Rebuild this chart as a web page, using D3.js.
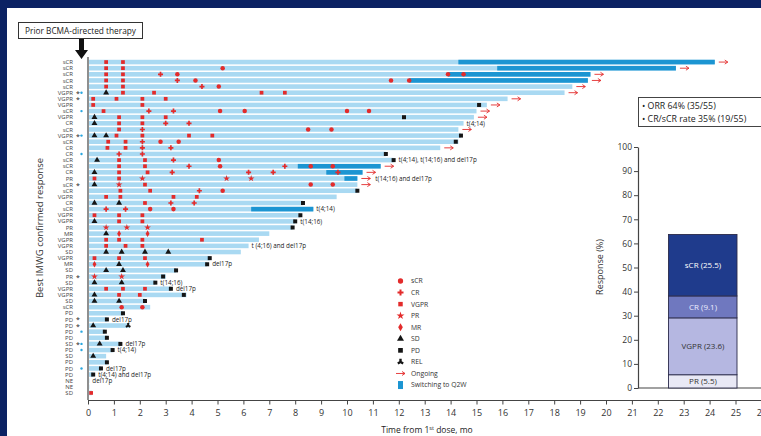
<!DOCTYPE html>
<html>
<head>
<meta charset="utf-8">
<script src="https://cdn.jsdelivr.net/npm/d3@7"></script>
<style>
  body { margin: 0; background: #0b2263; }
  svg { display: block; font-family: "Open Sans", "Noto Sans", sans-serif; }
</style>
</head>
<body>
<svg id="chart" width="761" height="436"></svg>
<script>

// ---- swimmer rows, top to bottom ----
const responses = ["sCR","sCR","sCR","sCR","sCR","VGPR","VGPR","VGPR","sCR","VGPR",
                   "CR","sCR","VGPR","sCR","CR","CR","sCR","sCR","CR","PR",
                   "sCR","sCR","VGPR","CR","sCR","VGPR","VGPR","PR","MR","VGPR",
                   "VGPR","SD","VGPR","MR","SD","PR","SD","VGPR","VGPR","SD",
                   "sCR","PD","PD","PD","PD","PD","SD","PD","SD","PD",
                   "PD","PD","NE","NE","SD"];

// k = black asterisk, c = cyan dot
const flags = ["","","","","","kc","k","","c","",
               "","","kc","","","c","","","","",
               "k","","","","","","","","","",
               "","","","","","k","","","","",
               "","","k","k","c","","kc","c","","",
               "c","","","",""];

// months on study
const durations = [24.2, 22.7, 19.4, 19.3, 18.7, 18.4, 16.2, 15.4, 15.0, 14.9,
                   14.5, 14.3, 14.4, 14.3, 13.6, 11.5, 11.8, 11.3, 10.6, 10.4,
                   10.4, 10.4, 9.6, 8.3, 8.7, 8.2, 8.0, 7.9, 7.0, 6.6,
                   6.2, 5.9, 4.7, 4.6, 3.4, 3.0, 2.6, 3.2, 3.8, 2.2,
                   2.4, 1.35, 0.75, 1.6, 0.65, 0.75, 1.25, 0.95, 0.7, 0.75,
                   0.5, 0.2, 0.05, 0.05, 0.15];

// month of switch to Q2W dosing (null = none)
const q2wStart = [14.3, 15.8, 13.9, 12.4, null, null, null, null, null, null,
                  null, null, null, null, null, null, null, 8.1, 9.2, 9.9,
                  null, null, null, null, 6.3, null, null, null, null, null,
                  null, null, null, null, null, null, null, null, null, null,
                  null, null, null, null, null, null, null, null, null, null,
                  null, null, null, null, null];

const ongoing = [1,1,1,1,1,1,1,1,1,1, 0,1,0,0,1,0,0,1,1,1, 1,0,0,0,0,0,0,0,0,0,
                 0,0,0,0,0,0,0,0,0,0, 0,0,0,0,0,0,0,0,0,0, 0,0,0,0,0];

// assessments: month + code (s sCR, c CR, v VGPR, p PR, m MR, d SD, x PD, r REL)
const events = [
  "0.7v 1.35v",
  "0.7v 1.35v 5.2s",
  "0.7v 1.35v 2.8c 3.45s 13.9s 14.5s",
  "0.7v 1.35v 3.45c 4.15s 11.7s 12.4s",
  "0.7v 1.35v 4.4c 5.05s",
  "0.7d 1.35v 2.55v 6.7v 7.6v",
  "0.2v 1.1v 2.1v 3.0v",
  "0.2v 2.1v 15.1x",
  "0.6v 2.35c 3.3c 5.1s 6.05s 10.0s 10.85s",
  "0.25d 1.2v 2.1v 3.0v 12.2x",
  "0.25d 1.2v 2.1v 3.0c 3.9c",
  "1.2v 2.1c 8.5s 9.4s",
  "0.25d 0.7d 1.1v 2.1v 3.9v 4.8v 14.4x",
  "0.78v 1.45v 2.1c 2.8s 3.5s 14.2x",
  "0.75v 1.45v 2.1c 3.2c",
  "1.2c 2.1c 11.5x",
  "0.35d 1.2v 2.2v 3.3c 5.05s 11.8x",
  "1.2v 2.2v 3.9c 5.1s 7.6c 8.6s 9.45s",
  "0.25d 1.2v 2.3v 3.25c 6.2c 7.15c 9.65c",
  "0.25v 1.2v 2.1p 5.35p 6.3p",
  "0.25d 1.2p 2.2v 8.6s 9.45s",
  "1.25v 2.4v 4.3c 5.2s 10.4x",
  "0.7v 1.25v 3.3v 4.2v",
  "0.25d 1.2d 2.2v 3.2c 4.1c 8.3x",
  "0.7c 1.45c 2.4s 3.3s",
  "0.25v 1.2v 2.1v 8.2x",
  "0.25d 1.2v 2.1v 8.0x",
  "0.7p 1.5p 2.3p 7.9x",
  "0.7d 1.2m 2.3m",
  "0.7v 1.2v 2.1v 4.4v",
  "0.7v 1.45v 2.1v",
  "0.7d 1.3d 2.2d 3.1d",
  "0.25v 1.2v 2.2v 4.7x",
  "0.25m 1.2d 2.3m 4.6x",
  "0.7d 1.35d 3.4x",
  "0.25p 1.3p 2.9x",
  "0.25d 1.3d 2.6x",
  "0.7v 1.35v 2.2v 3.2x",
  "0.25d 1.2v 2.0v 3.7x",
  "0.25d 1.2d 2.2x",
  "1.3s 2.1s",
  "1.35x",
  "0.73x",
  "0.2d 1.55r",
  "0.65x",
  "0.73x",
  "0.45d 1.25x",
  "0.95x",
  "0.2d",
  "0.73x",
  "0.5x",
  "0.2x",
  "",
  "",
  "0.12v"
];

const annotations = ["","","","","","","","","","",
                     "t(4;14)","","","","","","t(4;14), t(14;16) and del17p","","","t(14;16) and del17p",
                     "","","","","t(4;14)","","t(14;16)","","","",
                     "t (4;16) and del17p","","","del17p","","","t(14;16)","del17p","","",
                     "","","del17p","","","","del17p","t(4;14)","","",
                     "del17p","t(4;14) and del17p","del17p","",""];

// ---- response summary bar ----
const orrCats = ["PR", "VGPR", "CR", "sCR"];
const orrValues = [5.5, 23.6, 9.1, 25.5];
const orrColors = ["#e9e9f5", "#b5b7e1", "#6f78bf", "#1f3b8c"];
const orrTextColors = ["#333", "#333", "#eef", "#fff"];

const monthTicks = d3.range(0, 27);
const pctTicks = d3.range(0, 101, 10);

const legendItems = [["s","sCR"],["c","CR"],["v","VGPR"],["p","PR"],["m","MR"],
                     ["d","SD"],["x","PD"],["r","REL"],["o","Ongoing"],["q","Switching to Q2W"]];

const red = "#e32b2b", ink = "#151515";
const lightBar = "#a9d9f2", q2wBar = "#1c95d2";

const symbolFor = { s: d3.symbolCircle, c: d3.symbolCross, v: d3.symbolSquare, p: d3.symbolStar,
                    m: d3.symbolDiamond, d: d3.symbolTriangle, x: d3.symbolSquare, r: d3.symbolWye };
const sizeFor = { s: 16, c: 14, v: 14, p: 14, m: 13, d: 15, x: 16, r: 14 };
function colorFor(t) { return "scvpm".includes(t) ? red : ink; }

function parseEvents(str) {
  return str.split(" ").filter(function(s) { return s; })
            .map(function(s) { return { m: +s.slice(0, -1), t: s.slice(-1) }; });
}

function drawArrow(g, x0, yc) {
  g.append("path")
    .attr("d", "M" + x0 + "," + yc + "H" + (x0 + 9) + "M" + (x0 + 6) + "," + (yc - 2) +
               "L" + (x0 + 9) + "," + yc + "L" + (x0 + 6) + "," + (yc + 2))
    .attr("fill", "none").attr("stroke", red).attr("stroke-width", 0.9);
}

const svg = d3.select("#chart");

// white panel on navy
svg.append("rect").attr("x", 7).attr("y", 8).attr("width", 754).attr("height", 428).attr("fill", "#fff");

const x = d3.scaleLinear().domain([0, 26]).range([88, 761.4]);
const y = d3.scaleBand().domain(d3.range(responses.length)).range([59, 396])
            .paddingInner(0.25).paddingOuter(0.125);
const bh = y.bandwidth();

// ---- rows ----
const rows = svg.append("g").attr("class", "rows").selectAll("g")
  .data(responses.map(function(r, i) {
    return { i: i, resp: r, flag: flags[i], dur: durations[i], q2w: q2wStart[i],
             ongoing: ongoing[i], ev: parseEvents(events[i]), note: annotations[i] };
  }))
  .enter().append("g");

rows.append("rect")
  .attr("x", x(0) + 1)
  .attr("y", function(d) { return y(d.i); })
  .attr("width", function(d) { return Math.max(0, x(d.dur) - x(0) - 1); })
  .attr("height", bh)
  .attr("fill", lightBar);

rows.filter(function(d) { return d.q2w !== null; }).append("rect")
  .attr("x", function(d) { return x(d.q2w); })
  .attr("y", function(d) { return y(d.i); })
  .attr("width", function(d) { return x(d.dur) - x(d.q2w); })
  .attr("height", bh)
  .attr("fill", q2wBar);

rows.each(function(d) {
  const g = d3.select(this);
  const yc = y(d.i) + bh / 2;

  // response label + flags
  g.append("text").attr("x", 73).attr("y", yc).attr("dy", "0.35em")
    .attr("text-anchor", "end").attr("font-size", 6).attr("fill", "#444").text(d.resp);
  if (d.flag.includes("k")) {
    g.append("text").attr("x", 76).attr("y", yc + 3).attr("font-size", 7)
      .attr("fill", ink).text("*");
  }
  if (d.flag.includes("c")) {
    g.append("circle").attr("cx", 81.5).attr("cy", yc).attr("r", 1.2).attr("fill", "#2aa7e0");
  }

  // markers
  d.ev.forEach(function(e) {
    g.append("path")
      .attr("d", d3.symbol().type(symbolFor[e.t]).size(sizeFor[e.t])())
      .attr("transform", "translate(" + x(e.m) + "," + yc + ")" + (e.t === "r" ? " rotate(180)" : ""))
      .attr("fill", colorFor(e.t));
  });

  let endX = x(d.dur);
  if (d.ev.length) endX = Math.max(endX, x(d3.max(d.ev, function(e) { return e.m; })) + 2);

  if (d.ongoing) {
    drawArrow(g, x(d.dur) + 4, yc);
    endX = x(d.dur) + 15;
  }

  if (d.note) {
    g.append("text").attr("x", endX + 3).attr("y", yc).attr("dy", "0.35em")
      .attr("font-size", 6.3).attr("fill", "#222").text(d.note);
  }
});

// y axis line
svg.append("line").attr("x1", 88).attr("x2", 88).attr("y1", 57).attr("y2", 400)
  .attr("stroke", "#444").attr("stroke-width", 1.2);

svg.append("text")
  .attr("transform", "translate(43,228) rotate(-90)")
  .attr("text-anchor", "middle").attr("font-size", 9.5).attr("fill", "#333")
  .text("Best IMWG confirmed response");

// ---- x axis ----
const xAxisG = svg.append("g").attr("transform", "translate(0,400)");
xAxisG.call(d3.axisBottom(x).tickValues(d3.range(0, 26.01, 0.2)).tickSize(2.5).tickFormat("").tickSizeOuter(0));
xAxisG.call(d3.axisBottom(x).tickValues(monthTicks).tickSize(4.5).tickSizeOuter(0).tickPadding(5));
xAxisG.selectAll("text").attr("font-size", 9).attr("fill", "#333").attr("font-family", "\"Open Sans\", sans-serif");
xAxisG.selectAll("line, path").attr("stroke", "#444");

const xt = svg.append("text").attr("x", 427).attr("y", 433).attr("text-anchor", "middle")
  .attr("font-size", 8.5).attr("fill", "#222");
xt.append("tspan").text("Time from 1");
xt.append("tspan").attr("font-size", 5.5).attr("dy", -3).text("st");
xt.append("tspan").attr("dy", 3).text(" dose, mo");

// ---- prior BCMA box + arrow ----
svg.append("rect").attr("x", 18.5).attr("y", 22.5).attr("width", 124).attr("height", 16)
  .attr("fill", "#fff").attr("stroke", "#333").attr("stroke-width", 1);
svg.append("text").attr("x", 80.5).attr("y", 31).attr("dy", "0.35em").attr("text-anchor", "middle")
  .attr("font-size", 8.3).attr("fill", "#222").text("Prior BCMA-directed therapy");
svg.append("path")
  .attr("d", "M79,39 H84 V50 H88 L81.5,59 L75,50 H79 Z")
  .attr("fill", "#111");

// ---- legend ----
const legend = svg.append("g").attr("class", "legend");
legendItems.forEach(function(item, i) {
  const ly = 281 + i * 11.56;
  const t = item[0];
  if (t === "o") {
    drawArrow(legend, 396, ly);
  } else if (t === "q") {
    legend.append("rect").attr("x", 398).attr("y", ly - 4).attr("width", 5).attr("height", 8).attr("fill", q2wBar);
  } else {
    legend.append("path")
      .attr("d", d3.symbol().type(symbolFor[t]).size(sizeFor[t] + 6)())
      .attr("transform", "translate(400.5," + ly + ")" + (t === "r" ? " rotate(180)" : ""))
      .attr("fill", colorFor(t));
  }
  legend.append("text").attr("x", 411).attr("y", ly).attr("dy", "0.35em")
    .attr("font-size", 6.8).attr("fill", "#333").text(item[1]);
});

// ---- ORR box ----
svg.append("rect").attr("x", 638.5).attr("y", 97.5).attr("width", 130).attr("height", 29)
  .attr("fill", "#fff").attr("stroke", "#444").attr("stroke-width", 1);
svg.append("text").attr("x", 642).attr("y", 105.5).attr("dy", "0.35em").attr("font-size", 8.8)
  .attr("fill", "#222").text("\u2022 ORR 64% (35/55)");
svg.append("text").attr("x", 642).attr("y", 119).attr("dy", "0.35em").attr("font-size", 8.8)
  .attr("fill", "#222").text("\u2022 CR/sCR rate 35% (19/55)");

// ---- response bar ----
const py = d3.scaleLinear().domain([0, 100]).range([388, 147]);
const pyAxis = svg.append("g").attr("transform", "translate(638,0)")
  .call(d3.axisLeft(py).tickValues(pctTicks).tickSize(4).tickSizeOuter(0).tickPadding(2));
pyAxis.selectAll("text").attr("font-size", 8.5).attr("fill", "#333").attr("font-family", "\"Open Sans\", sans-serif");
pyAxis.selectAll("line, path").attr("stroke", "#444");
pyAxis.select(".domain").attr("stroke-width", 1.2);
svg.append("line").attr("x1", 638).attr("x2", 761).attr("y1", 388).attr("y2", 388)
  .attr("stroke", "#444").attr("stroke-width", 1.2);

svg.append("text")
  .attr("transform", "translate(603,267) rotate(-90)")
  .attr("text-anchor", "middle").attr("font-size", 9).attr("fill", "#333")
  .text("Response (%)");

let cum = 0;
const stackData = orrValues.map(function(v, i) {
  const d = { cat: orrCats[i], v: v, y0: cum, y1: cum + v, fill: orrColors[i], tc: orrTextColors[i] };
  cum += v;
  return d;
});
const seg = svg.append("g").selectAll("g").data(stackData).enter().append("g");
seg.append("rect")
  .attr("x", 668.5).attr("width", 68.5)
  .attr("y", function(d) { return py(d.y1); })
  .attr("height", function(d) { return py(d.y0) - py(d.y1); })
  .attr("fill", function(d) { return d.fill; })
  .attr("stroke", "#2b2b4a").attr("stroke-width", 0.9);
seg.append("text")
  .attr("x", 703).attr("y", function(d) { return py((d.y0 + d.y1) / 2); })
  .attr("dy", "0.35em").attr("text-anchor", "middle").attr("font-size", 8)
  .attr("fill", function(d) { return d.tc; })
  .text(function(d) { return d.cat + " (" + d.v + ")"; });

</script>
</body>
</html>
